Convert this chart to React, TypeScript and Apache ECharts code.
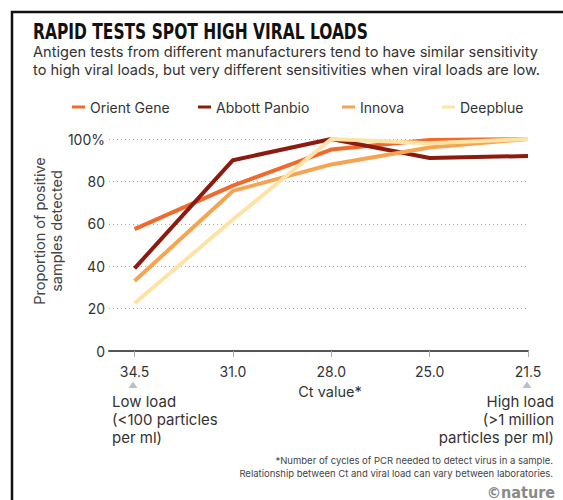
import React, { useEffect, useRef } from "react";
import * as echarts from "echarts";

const ctLabels = ["34.5", "31.0", "28.0", "25.0", "21.5"];
const seriesNames = ["Orient Gene", "Abbott Panbio", "Innova", "Deepblue"];
const orientGene = [57.5, 78, 95, 99.5, 100];
const abbottPanbio = [39, 90, 100, 91, 92];
const innova = [33, 75.5, 88, 96, 100];
const deepblue = [22.5, 62, 100, 98, 100];

const colors = ["#ef6a2c", "#8c1a0f", "#f6a451", "#fde3a5"];
const legendLeft = [67, 193, 337, 437];
const FONT = "Inter, Roboto, sans-serif";

export default function App() {
  const ref = useRef<HTMLDivElement>(null);
  useEffect(() => {
    document.body.style.margin = "0";
    const chart = echarts.init(ref.current!, null, { renderer: "svg" });
    const allSeries = [orientGene, abbottPanbio, innova, deepblue];
    chart.setOption({
      animation: false,
      backgroundColor: "#ffffff",
      grid: { left: 109, right: 35, top: 139, height: 212 },
      legend: seriesNames.map((name, i) => ({
        left: legendLeft[i],
        top: 95,
        icon: "rect",
        itemWidth: 13,
        itemHeight: 3,
        textStyle: { fontSize: 14, color: "#333", fontFamily: FONT },
        data: [name],
      })),
      xAxis: {
        type: "value",
        min: -0.26,
        max: 4,
        axisLine: { show: true, onZero: false, lineStyle: { color: "#555", width: 2 } },
        axisTick: { show: true, customValues: [0, 1, 2, 3, 4], length: 6, lineStyle: { color: "#aaa" } },
        axisLabel: {
          customValues: [0, 1, 2, 3, 4],
          formatter: (v: number) => ctLabels[Math.round(v)] ?? "",
          fontSize: 14,
          color: "#333",
          margin: 13,
          fontFamily: FONT,
        },
        splitLine: { show: false },
      },
      yAxis: {
        type: "value",
        min: 0,
        max: 100,
        interval: 20,
        axisLine: { show: false },
        axisTick: { show: false },
        axisLabel: {
          formatter: (v: number) => (v === 100 ? "100%" : String(v)),
          fontSize: 14,
          color: "#333",
          margin: 4,
          fontFamily: FONT,
        },
        splitLine: { lineStyle: { type: [1, 3], color: "#aaa", width: 1 } },
      },
      series: allSeries.map((vals, i) => ({
        name: seriesNames[i],
        type: "line",
        symbol: "none",
        color: colors[i],
        lineStyle: { width: 4, color: colors[i] },
        data: vals.map((v, j) => [j, v]),
        z: 2 + i,
      })),
      graphic: [
        {
          type: "polyline",
          shape: { points: [[12, 502], [12, 12], [566, 12]] },
          style: { stroke: "#111", lineWidth: 2.5, fill: "none" },
        },
        {
          type: "text",
          x: 33,
          y: 31,
          scaleX: 0.84,
          style: {
            text: "RAPID TESTS SPOT HIGH VIRAL LOADS",
            font: "bold 20.5px 'DejaVu Sans Condensed', 'DejaVu Sans', sans-serif",
            fill: "#111",
            textVerticalAlign: "middle",
          },
        },
        {
          type: "text",
          x: 33,
          y: 52,
          style: {
            text: "Antigen tests from different manufacturers tend to have similar sensitivity",
            font: `14.6px ${FONT}`,
            fill: "#333",
            textVerticalAlign: "middle",
          },
        },
        {
          type: "text",
          x: 33,
          y: 70,
          style: {
            text: "to high viral loads, but very different sensitivities when viral loads are low.",
            font: `14.6px ${FONT}`,
            fill: "#333",
            textVerticalAlign: "middle",
          },
        },
        {
          type: "text",
          x: 48,
          y: 231,
          rotation: Math.PI / 2,
          style: {
            text: "Proportion of positive\nsamples detected",
            font: `14.5px ${FONT}`,
            fill: "#444",
            lineHeight: 17,
            textAlign: "center",
            textVerticalAlign: "middle",
          },
        },
        {
          type: "polygon",
          shape: { points: [[133, 381.5], [128.5, 388], [137.5, 388]] },
          style: { fill: "#b7c1cc" },
        },
        {
          type: "polygon",
          shape: { points: [[527, 381.5], [522.5, 388], [531.5, 388]] },
          style: { fill: "#b7c1cc" },
        },
        {
          type: "text",
          x: 330,
          y: 391,
          style: {
            text: "Ct value*",
            font: `14.5px ${FONT}`,
            fill: "#333",
            textAlign: "center",
            textVerticalAlign: "middle",
          },
        },
        {
          type: "text",
          x: 112,
          y: 392,
          style: {
            text: "Low load\n(<100 particles\nper ml)",
            font: `15px ${FONT}`,
            fill: "#333",
            lineHeight: 18,
            textVerticalAlign: "top",
          },
        },
        {
          type: "text",
          x: 554,
          y: 392,
          style: {
            text: "High load\n(>1 million\nparticles per ml)",
            font: `15px ${FONT}`,
            fill: "#333",
            lineHeight: 18,
            textAlign: "right",
            textVerticalAlign: "top",
          },
        },
        {
          type: "text",
          x: 553,
          y: 460,
          style: {
            text: "*Number of cycles of PCR needed to detect virus in a sample.",
            font: `9.5px ${FONT}`,
            fill: "#444",
            textAlign: "right",
            textVerticalAlign: "middle",
          },
        },
        {
          type: "text",
          x: 553,
          y: 473,
          style: {
            text: "Relationship between Ct and viral load can vary between laboratories.",
            font: `9.5px ${FONT}`,
            fill: "#444",
            textAlign: "right",
            textVerticalAlign: "middle",
          },
        },
        {
          type: "text",
          x: 555,
          y: 492,
          style: {
            text: "©nature",
            font: "bold 16px 'DejaVu Sans Condensed', 'DejaVu Sans', sans-serif",
            fill: "#8a8a8a",
            textAlign: "right",
            textVerticalAlign: "middle",
          },
        },
      ],
    });
    return () => chart.dispose();
  }, []);
  return <div ref={ref} style={{ width: 563, height: 500 }} />;
}
